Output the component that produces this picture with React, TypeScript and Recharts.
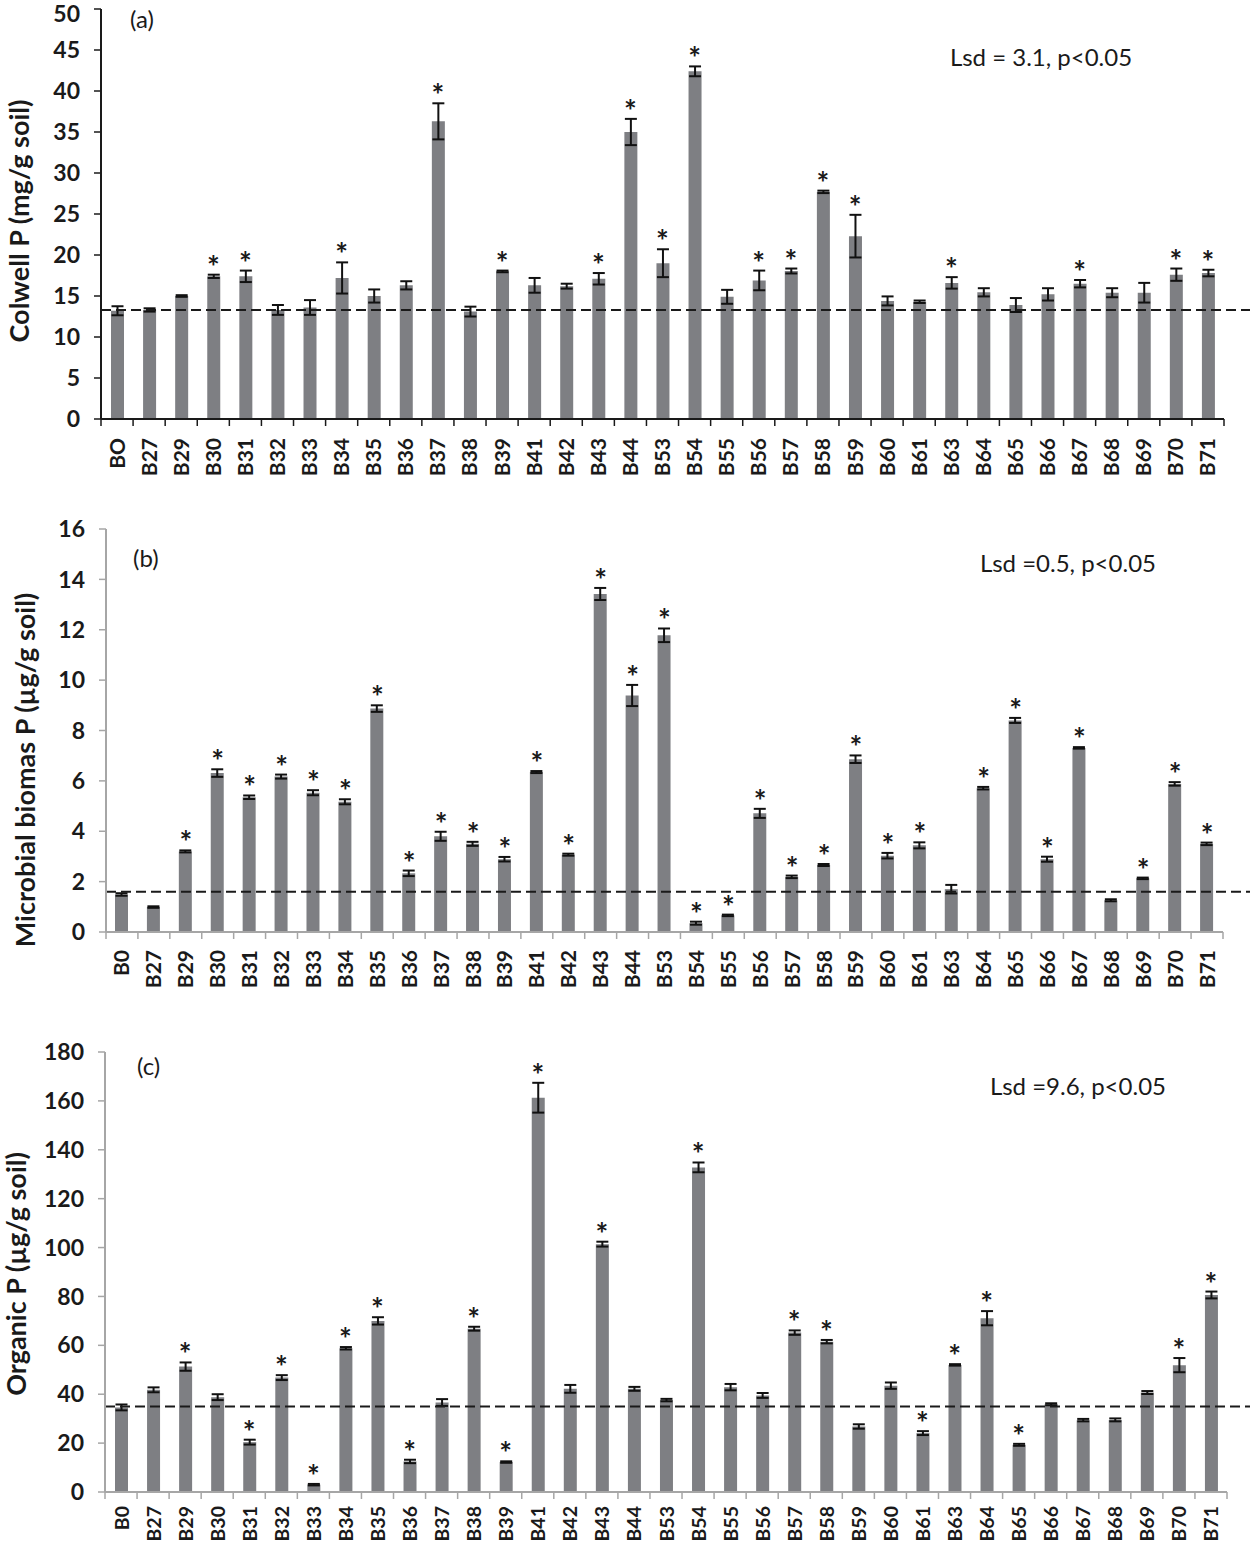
import React from 'react';
import { ComposedChart, Bar, Line, XAxis, YAxis, ErrorBar, ReferenceLine, LabelList } from 'recharts';

const categoriesA = ['BO','B27','B29','B30','B31','B32','B33','B34','B35','B36','B37','B38','B39','B41','B42','B43','B44','B53','B54','B55','B56','B57','B58','B59','B60','B61','B63','B64','B65','B66','B67','B68','B69','B70','B71'];
const categories = ['B0','B27','B29','B30','B31','B32','B33','B34','B35','B36','B37','B38','B39','B41','B42','B43','B44','B53','B54','B55','B56','B57','B58','B59','B60','B61','B63','B64','B65','B66','B67','B68','B69','B70','B71'];

// (a) Colwell P
const colwellValues = [13.2,13.3,15.0,17.4,17.4,13.3,13.6,17.2,15.0,16.3,36.3,13.1,18.0,16.3,16.2,17.1,35.0,19.0,42.4,14.9,16.9,18.05,27.7,22.3,14.4,14.3,16.6,15.45,13.9,15.2,16.5,15.4,15.4,17.6,17.8];
const colwellErrors = [0.55,0.2,0.1,0.2,0.7,0.6,0.9,1.9,0.8,0.5,2.2,0.6,0.1,0.9,0.3,0.7,1.6,1.7,0.6,0.85,1.2,0.3,0.15,2.6,0.55,0.15,0.7,0.5,0.85,0.75,0.45,0.55,1.2,0.75,0.4];
const colwellSig = [0,0,0,1,1,0,0,1,0,0,1,0,1,0,0,1,1,1,1,0,1,1,1,1,0,0,1,0,0,0,1,0,0,1,1];
const colwellTicks = [0,5,10,15,20,25,30,35,40,45,50];
const colwellBaseline = 13.3;

// (b) Microbial biomass P
const microbialValues = [1.49,0.99,3.2,6.31,5.35,6.17,5.53,5.17,8.87,2.33,3.8,3.5,2.89,6.35,3.07,13.42,9.39,11.78,0.35,0.66,4.71,2.19,2.66,6.86,3.03,3.44,1.7,5.71,8.4,2.89,7.31,1.26,2.13,5.88,3.5];
const microbialErrors = [0.05,0.03,0.04,0.15,0.07,0.08,0.1,0.1,0.13,0.11,0.18,0.08,0.09,0.04,0.04,0.24,0.42,0.27,0.06,0.03,0.18,0.05,0.04,0.15,0.11,0.12,0.17,0.05,0.1,0.1,0.03,0.04,0.03,0.07,0.05];
const microbialSig = [0,0,1,1,1,1,1,1,1,1,1,1,1,1,1,1,1,1,1,1,1,1,1,1,1,1,0,1,1,1,1,0,1,1,1];
const microbialTicks = [0,2,4,6,8,10,12,14,16];
const microbialBaseline = 1.6;

// (c) Organic P
const organicValues = [34.6,41.8,51.3,38.8,20.4,46.8,3.0,58.8,70.0,12.5,36.6,66.8,12.25,161.3,42.2,101.4,42.2,37.6,132.8,42.9,39.5,65.2,61.5,26.8,43.5,24.1,52.0,71.1,19.3,35.9,29.4,29.5,40.7,51.9,80.6];
const organicErrors = [1.2,1.0,1.7,1.2,1.0,1.0,0.3,0.5,1.5,0.7,1.4,0.8,0.3,6.1,1.6,1.0,0.8,0.5,2.0,1.3,1.0,0.9,0.7,0.9,1.3,0.8,0.3,2.9,0.4,0.4,0.5,0.6,0.6,2.9,1.4];
const organicSig = [0,0,1,0,1,1,1,1,1,1,0,1,1,1,0,1,0,0,1,0,0,1,1,0,0,1,1,1,1,0,0,0,0,1,1];
const organicTicks = [0,20,40,60,80,100,120,140,160,180];
const organicBaseline = 35;

const FONT = 'Lato, "Open Sans", sans-serif';
const TEXT = '#1a1a1a';
const BAR = '#7e7f83';

function buildData(names: string[], values: number[], errors: number[], sig: number[]) {
  return names.map((name, i) => ({
    name,
    value: values[i],
    err: errors[i],
    star: sig[i] ? values[i] + errors[i] : null,
  }));
}

type PanelProps = {
  top: number;
  height: number;
  plotTop: number;
  plotBottom: number;
  plotLeft: number;
  plotRight: number;
  data: any[];
  domain: [number, number];
  ticks: number[];
  baseline: number;
  axisColor: string;
  labelOffset: number;
  labelSize: number;
  minTickY: number;
};

function Panel(p: PanelProps) {
  const band = (p.plotRight - p.plotLeft) / p.data.length;
  const axisY = p.plotBottom - p.top;
  const n = p.data.length;
  const XTick = (props: any) => {
    const { x, payload, index } = props;
    return (
      <g>
        <line x1={x - band / 2} x2={x - band / 2} y1={axisY} y2={axisY + 7} stroke={p.axisColor} strokeWidth={1.5} />
        {index === n - 1 && (
          <line x1={x + band / 2} x2={x + band / 2} y1={axisY} y2={axisY + 7} stroke={p.axisColor} strokeWidth={1.5} />
        )}
        <text
          transform={`translate(${x + 7.5},${axisY + p.labelOffset}) rotate(-90)`}
          textAnchor="end"
          fontFamily={FONT}
          fontWeight={700}
          fontSize={p.labelSize}
          fill={TEXT}
        >
          {payload.value}
        </text>
      </g>
    );
  };
  const YTick = (props: any) => {
    const { x, y, payload } = props;
    const ty = Math.max(y, p.minTickY);
    return (
      <text x={x} y={ty} dy="0.355em" textAnchor="end" fontFamily={FONT} fontWeight={700} fontSize={23} fill={TEXT}>
        {payload.value}
      </text>
    );
  };
  const StarLabel = (props: any) => {
    const { x, y, value } = props;
    if (value === null || value === undefined || x == null || y == null) return null;
    return (
      <text x={x} y={y + 3} textAnchor="middle" fontFamily={FONT} fontWeight={700} fontSize={30} fill={TEXT}>
        *
      </text>
    );
  };
  return (
    <div style={{ position: 'absolute', left: 0, top: p.top }}>
      <ComposedChart
        width={1250}
        height={p.height}
        data={p.data}
        margin={{ top: p.plotTop - p.top, right: 1250 - p.plotRight, bottom: 0, left: 0 }}
        style={{ overflow: 'visible' }}
      >
        <XAxis
          dataKey="name"
          interval={0}
          height={p.height - axisY}
          axisLine={{ stroke: p.axisColor, strokeWidth: 2 }}
          tickLine={false}
          tick={<XTick />}
        />
        <YAxis
          width={p.plotLeft}
          domain={p.domain}
          ticks={p.ticks}
          interval={0}
          tickSize={7}
          tickMargin={14}
          axisLine={{ stroke: p.axisColor, strokeWidth: 2 }}
          tickLine={{ stroke: p.axisColor, strokeWidth: 1.5 }}
          tick={<YTick />}
        />
        <Bar dataKey="value" fill={BAR} barSize={13} isAnimationActive={false}>
          <ErrorBar dataKey="err" width={6} stroke="#111" strokeWidth={2} direction="y" />
        </Bar>
        <ReferenceLine
          y={p.baseline}
          shape={(sp: any) => (
            <line x1={sp.x1} y1={sp.y1} x2={1250} y2={sp.y2} stroke="#1a1a1a" strokeWidth={2} strokeDasharray="10 5" />
          )}
        />
        <Line dataKey="star" stroke="none" dot={false} activeDot={false} isAnimationActive={false} legendType="none">
          <LabelList dataKey="star" content={<StarLabel />} />
        </Line>
      </ComposedChart>
    </div>
  );
}

export default function App() {
  const dataA = buildData(categoriesA, colwellValues, colwellErrors, colwellSig);
  const dataB = buildData(categories, microbialValues, microbialErrors, microbialSig);
  const dataC = buildData(categories, organicValues, organicErrors, organicSig);
  return (
    <div style={{ position: 'absolute', left: 0, top: 0, width: 1250, height: 1544, overflow: 'hidden', background: '#fff' }}>
      <Panel top={0} height={495} plotTop={9} plotBottom={419} plotLeft={101} plotRight={1224}
        data={dataA} domain={[0, 50]} ticks={colwellTicks} baseline={colwellBaseline} axisColor="#1a1a1a" labelOffset={19} labelSize={21} minTickY={14} />
      <Panel top={500} height={530} plotTop={529} plotBottom={932} plotLeft={106} plotRight={1223}
        data={dataB} domain={[0, 16]} ticks={microbialTicks} baseline={microbialBaseline} axisColor="#a6a6a6" labelOffset={18} labelSize={21} minTickY={0} />
      <Panel top={1030} height={514} plotTop={1052} plotBottom={1492} plotLeft={105} plotRight={1227}
        data={dataC} domain={[0, 180]} ticks={organicTicks} baseline={organicBaseline} axisColor="#a6a6a6" labelOffset={14} labelSize={19.5} minTickY={0} />
      <svg width={1250} height={1544} style={{ position: 'absolute', left: 0, top: 0, pointerEvents: 'none' }}>
        <g fontFamily={FONT} fill={TEXT}>
          <text x={130} y={18} dominantBaseline="central" fontSize={24}>(a)</text>
          <text x={950} y={56} dominantBaseline="central" fontSize={24}>Lsd = 3.1, p&lt;0.05</text>
          <text x={133} y={557} dominantBaseline="central" fontSize={24}>(b)</text>
          <text x={980} y={562} dominantBaseline="central" fontSize={24}>Lsd =0.5, p&lt;0.05</text>
          <text x={137} y={1065} dominantBaseline="central" fontSize={24}>(c)</text>
          <text x={990} y={1085} dominantBaseline="central" fontSize={24}>Lsd =9.6, p&lt;0.05</text>
          <text transform="translate(18,221) rotate(-90)" textAnchor="middle" dominantBaseline="central" fontSize={27} fontWeight={700}>Colwell P (mg/g soil)</text>
          <text transform="translate(24,770) rotate(-90)" textAnchor="middle" dominantBaseline="central" fontSize={27} fontWeight={700}>Microbial biomas P (µg/g soil)</text>
          <text transform="translate(15,1274) rotate(-90)" textAnchor="middle" dominantBaseline="central" fontSize={27} fontWeight={700}>Organic P (µg/g soil)</text>
        </g>
      </svg>
    </div>
  );
}
